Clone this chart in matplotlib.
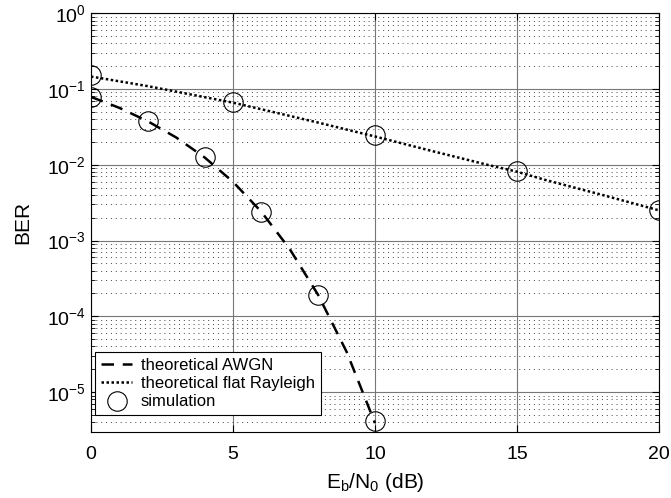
import numpy as np
import matplotlib.pyplot as plt
from matplotlib.ticker import LogLocator, NullFormatter

plt.rcParams['font.family'] = ['Liberation Sans', 'DejaVu Sans']

# theoretical curves
ebn0_awgn = [0, 1, 2, 3, 4, 5, 6, 7, 8, 9, 10]
ber_awgn = [0.0786, 0.0563, 0.0375, 0.0229, 0.0125, 0.00595, 0.00239,
            0.00077, 0.000191, 3.4e-5, 3.9e-6]
ebn0_ray = [0, 2, 4, 5, 6, 8, 10, 12, 14, 15, 16, 18, 20]
ber_ray = [0.146, 0.109, 0.0780, 0.0660, 0.0540, 0.0360, 0.0236, 0.0152,
           0.0099, 0.0081, 0.0063, 0.0040, 0.0025]

# simulation points
sim_x_awgn = [0, 2, 4, 6, 8, 10]
sim_awgn = [0.079, 0.038, 0.0125, 0.0024, 0.00019, 4.2e-6]
sim_x_ray = [0, 5, 10, 15, 20]
sim_ray = [0.152, 0.067, 0.0245, 0.0083, 0.0025]

fig = plt.figure(figsize=(6.71, 4.98), dpi=100)
ax = fig.add_axes([0.1356, 0.1325, 0.8465, 0.841])

ax.semilogy(ebn0_awgn, ber_awgn, color='black', lw=1.8, dashes=(5, 3.5),
            label='theoretical AWGN')
ax.semilogy(ebn0_ray, ber_ray, color='black', lw=1.8, dashes=(1, 1),
            label='theoretical flat Rayleigh')
ax.semilogy(sim_x_awgn, sim_awgn, 'o', ms=14, mfc='none', mec='black',
            mew=0.8, label='simulation')
ax.semilogy(sim_x_ray, sim_ray, 'o', ms=14, mfc='none', mec='black', mew=0.8)

ax.set_xlim(0, 20)
ax.set_ylim(2.97e-6, 1)
ax.set_xticks([0, 5, 10, 15, 20])
ax.yaxis.set_major_locator(LogLocator(base=10, numticks=10))
ax.yaxis.set_minor_locator(LogLocator(base=10, subs=np.arange(2, 10), numticks=10))
ax.yaxis.set_minor_formatter(NullFormatter())

ax.grid(True, which='major', color='#777777', lw=0.8)
ax.grid(True, which='minor', axis='y', color='#444444', lw=0.7, ls=(0, (1, 4)))
ax.tick_params(which='both', direction='in', top=True, right=True, labelsize=14)
ax.tick_params(which='major', length=5)
ax.tick_params(which='minor', length=3)
ax.tick_params(axis='x', pad=10)
for s in ax.spines.values():
    s.set_linewidth(0.8)

ax.set_xlabel('E$_\\mathregular{b}$/N$_\\mathregular{0}$ (dB)', fontsize=15, labelpad=6)
ax.set_ylabel('BER', fontsize=15, labelpad=11)

leg = ax.legend(loc='lower left', fontsize=12, fancybox=False, framealpha=1,
                edgecolor='black', handlelength=1.9, borderpad=0.35,
                labelspacing=0.2, handletextpad=0.5, borderaxespad=0,
                bbox_to_anchor=(0.007, 0.04))
leg.get_frame().set_linewidth(0.8)

fig.savefig('out.png', dpi=100)
